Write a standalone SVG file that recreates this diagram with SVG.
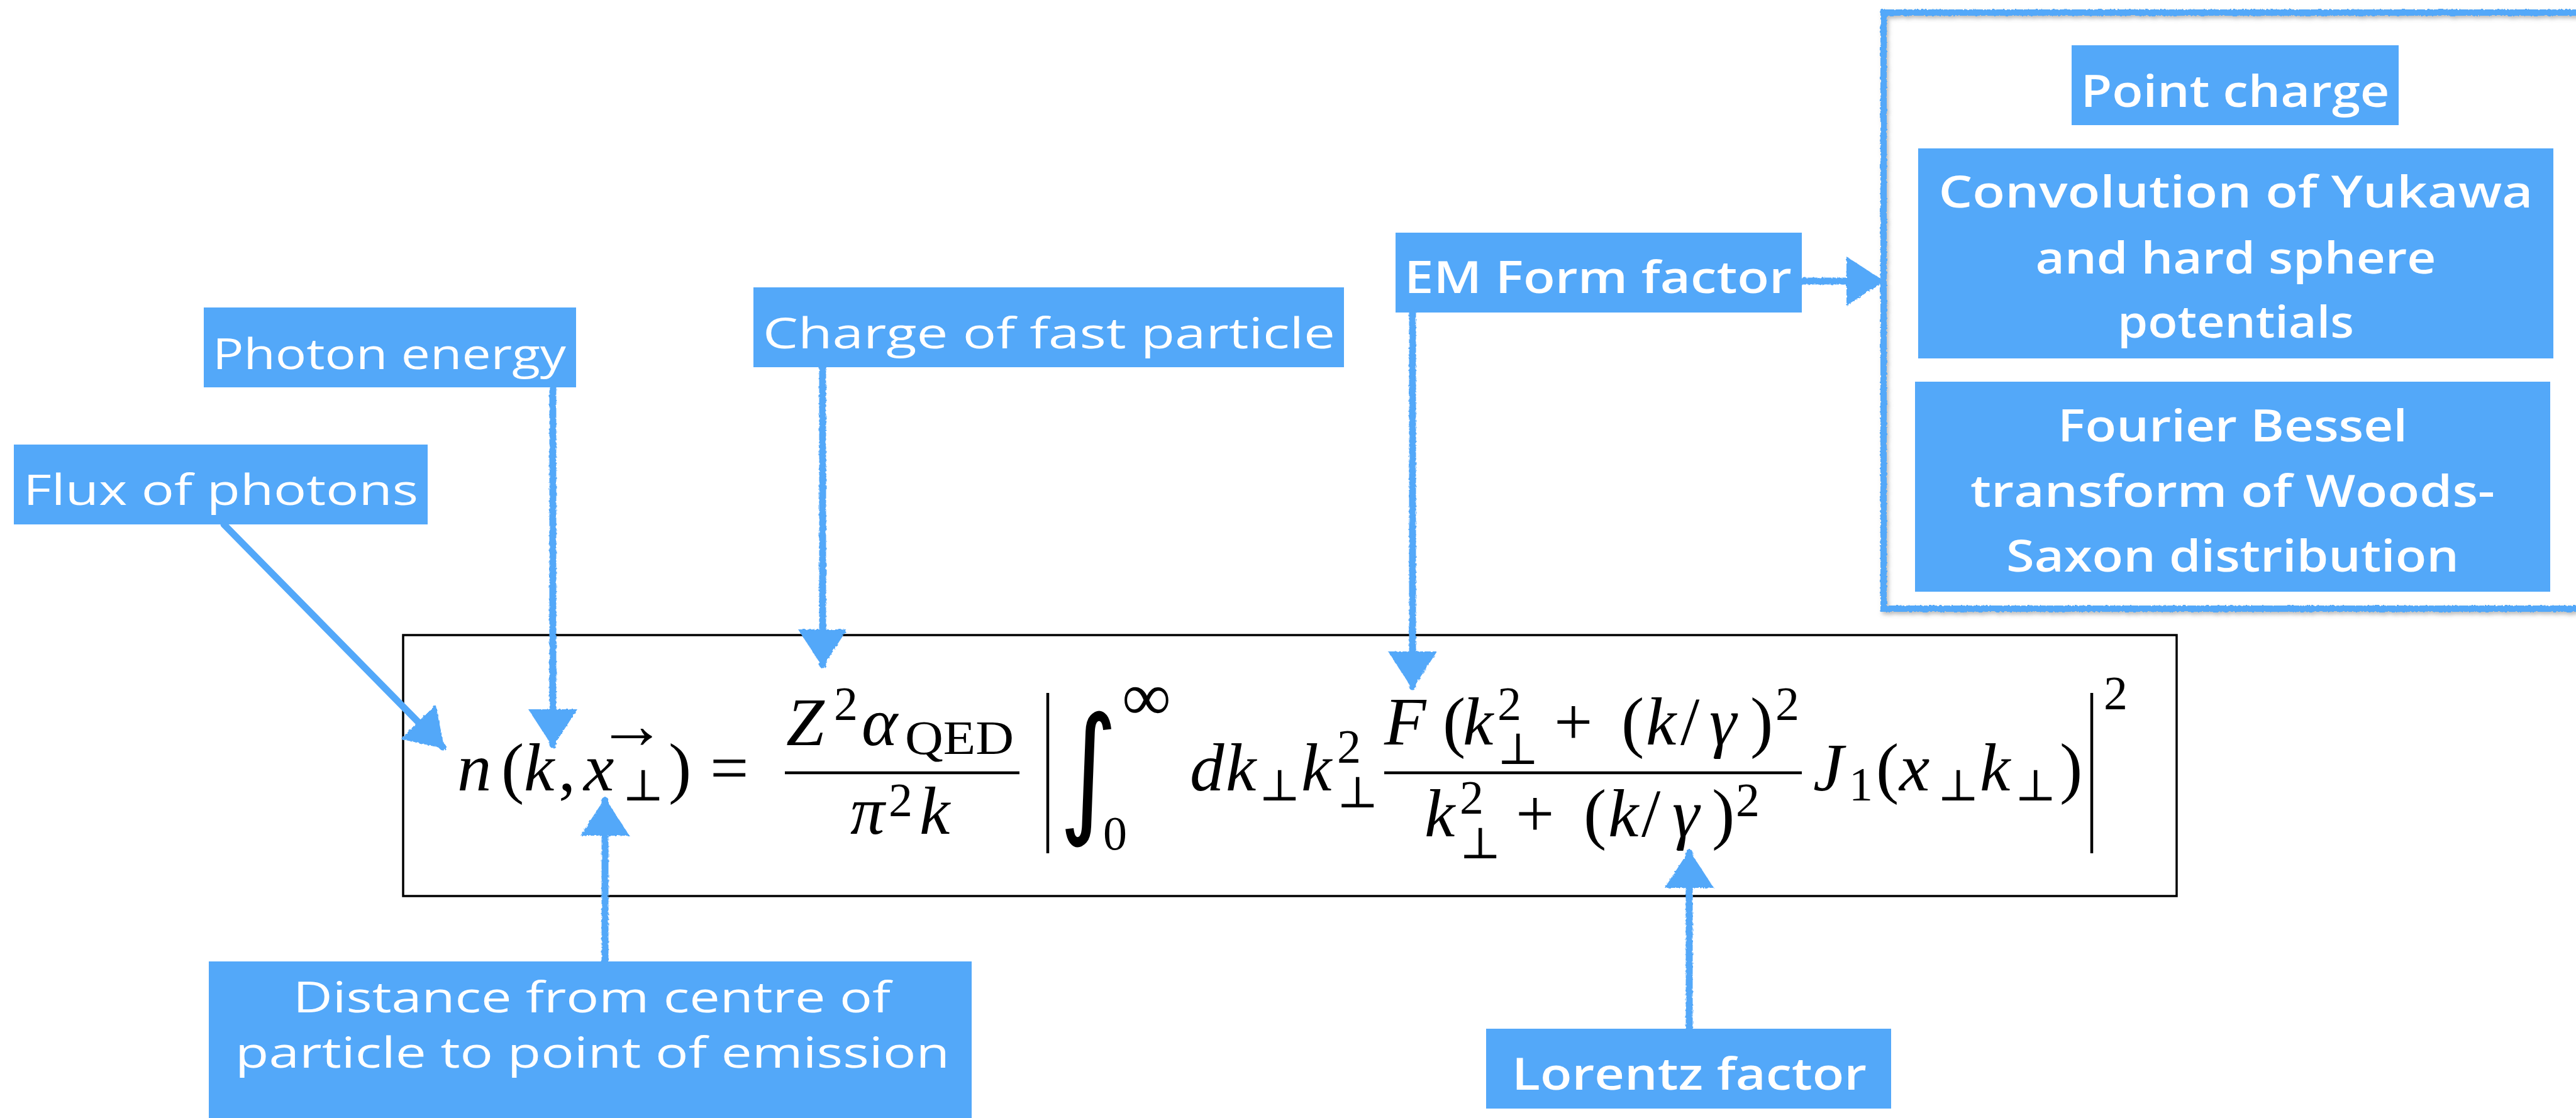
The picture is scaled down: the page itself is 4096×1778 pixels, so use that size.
<svg xmlns="http://www.w3.org/2000/svg" width="4096" height="1778" viewBox="0 0 4096 1778">
<defs>
<style>
.box{fill:#53A8F9}
.lbl{fill:#fff;font-family:"Open Sans","Noto Sans",sans-serif;font-size:70px;font-weight:600;text-anchor:middle}
.lbl2{fill:#fff;font-family:"Open Sans","Noto Sans",sans-serif;font-size:68px;font-weight:400;text-anchor:middle}
.conn{stroke:#53A8F9;stroke-width:11;fill:none;stroke-linecap:round;marker-end:url(#ah)}
.m{font-family:"Liberation Serif","DejaVu Serif",serif;fill:#000;font-size:109px}
.mi{font-style:italic}
.s{font-size:76px}
.p{font-size:70px}
.bar{stroke:#000;stroke-width:4.5;fill:none}
</style>
<marker id="ah" viewBox="0 0 60 78" refX="56" refY="39" markerWidth="60" markerHeight="78" markerUnits="userSpaceOnUse" orient="auto">
<path d="M0,0 L60,39 L0,78 Z" fill="#53A8F9"/>
</marker>
<filter id="rough" x="-5%" y="-5%" width="110%" height="110%">
<feTurbulence type="fractalNoise" baseFrequency="0.25" numOctaves="2" seed="3"/>
<feDisplacementMap in="SourceGraphic" scale="4"/>
</filter>
<filter id="sh" x="-5%" y="-5%" width="115%" height="115%">
<feDropShadow dx="3" dy="4" stdDeviation="3" flood-color="#777" flood-opacity="0.5"/>
</filter>
</defs>
<rect width="4096" height="1778" fill="#fff"/>

<g id="frame-form-factors" filter="url(#sh)">
<rect x="2995" y="20" width="1130" height="948" fill="none" stroke="#53A8F9" stroke-width="10" filter="url(#rough)"/>
</g>

<g id="formula">
<rect x="641" y="1010" width="2820" height="415" fill="#fff" stroke="#000" stroke-width="3.5"/>
<text class="m mi" x="727" y="1257">n</text>
<text class="m" x="797" y="1257">(</text>
<text class="m mi" x="833" y="1257">k</text>
<text class="m" x="888" y="1257">,</text>
<text class="m mi" x="928" y="1257">x</text>
<text class="m" x="950" y="1190" font-size="50">→</text>
<text class="m p" x="990" y="1273">⊥</text>
<text class="m" x="1063" y="1257">)</text>
<text class="m" x="1129" y="1257">=</text>
<line class="bar" x1="1248" y1="1229" x2="1621" y2="1229"/>
<text class="m mi" x="1250" y="1185">Z</text>
<text class="m s" x="1326" y="1145">2</text>
<text class="m mi" x="1370" y="1185">α</text>
<text class="m s" x="1439" y="1199" textLength="173" lengthAdjust="spacingAndGlyphs">QED</text>
<text class="m mi" x="1352" y="1326">π</text>
<text class="m s" x="1413" y="1298">2</text>
<text class="m mi" x="1462" y="1326">k</text>
<line class="bar" x1="1666" y1="1102" x2="1666" y2="1357"/>
<text transform="translate(1684,1300) scale(0.8,1)" x="0" y="0" font-family="DejaVu Sans, sans-serif" font-size="224" fill="#000">∫</text>
<text class="m" x="1784" y="1145" font-size="100">∞</text>
<text class="m s" x="1754" y="1351">0</text>
<text class="m mi" x="1892" y="1257">d</text>
<text class="m mi" x="1949" y="1257">k</text>
<text class="m p" x="2002" y="1273">⊥</text>
<text class="m mi" x="2069" y="1257">k</text>
<text class="m s" x="2126" y="1213">2</text>
<text class="m p" x="2126" y="1284">⊥</text>
<line class="bar" x1="2201" y1="1229" x2="2865" y2="1229"/>
<text class="m mi" x="2201" y="1184">F</text>
<text class="m" x="2294" y="1184">(</text>
<text class="m mi" x="2326" y="1184">k</text>
<text class="m s" x="2381" y="1145">2</text>
<text class="m p" x="2381" y="1215">⊥</text>
<text class="m" x="2471" y="1184">+</text>
<text class="m" x="2578" y="1184">(</text>
<text class="m mi" x="2617" y="1184">k</text>
<text class="m" x="2672" y="1184">/</text>
<text class="m mi" x="2718" y="1184">γ</text>
<text class="m" x="2783" y="1184">)</text>
<text class="m s" x="2823" y="1145">2</text>
<text class="m mi" x="2265" y="1330">k</text>
<text class="m s" x="2321" y="1294">2</text>
<text class="m p" x="2321" y="1365">⊥</text>
<text class="m" x="2410" y="1330">+</text>
<text class="m" x="2518" y="1330">(</text>
<text class="m mi" x="2557" y="1330">k</text>
<text class="m" x="2610" y="1330">/</text>
<text class="m mi" x="2659" y="1330">γ</text>
<text class="m" x="2722" y="1330">)</text>
<text class="m s" x="2760" y="1298">2</text>
<text class="m mi" x="2883" y="1257">J</text>
<text class="m s" x="2940" y="1273">1</text>
<text class="m" x="2983" y="1257">(</text>
<text class="m mi" x="3020" y="1257">x</text>
<text class="m p" x="3081" y="1273">⊥</text>
<text class="m mi" x="3148" y="1257">k</text>
<text class="m p" x="3204" y="1273">⊥</text>
<text class="m" x="3275" y="1257">)</text>
<line class="bar" x1="3326" y1="1102" x2="3326" y2="1357"/>
<text class="m s" x="3345" y="1128">2</text>
</g>

<g id="flux-of-photons">
<rect class="box" x="22" y="707" width="658" height="127"/>
<text class="lbl2" x="351" y="803" textLength="628" lengthAdjust="spacingAndGlyphs">Flux of photons</text>
</g>
<g id="photon-energy">
<rect class="box" x="324" y="489" width="592" height="127"/>
<text class="lbl2" x="619" y="587" textLength="562" lengthAdjust="spacingAndGlyphs">Photon energy</text>
</g>
<g id="charge-of-fast-particle">
<rect class="box" x="1198" y="457" width="939" height="127"/>
<text class="lbl2" x="1668" y="554" textLength="910" lengthAdjust="spacingAndGlyphs">Charge of fast particle</text>
</g>
<g id="em-form-factor">
<rect class="box" x="2219" y="370" width="646" height="127"/>
<text class="lbl" x="2541" y="466" textLength="616" lengthAdjust="spacingAndGlyphs">EM Form factor</text>
</g>
<g id="point-charge">
<rect class="box" x="3294" y="72" width="520" height="127"/>
<text class="lbl" x="3554" y="170" textLength="491" lengthAdjust="spacingAndGlyphs">Point charge</text>
</g>
<g id="yukawa">
<rect class="box" x="3050" y="236" width="1010" height="334"/>
<text class="lbl" x="3555" y="330" textLength="945" lengthAdjust="spacingAndGlyphs">Convolution of Yukawa</text>
<text class="lbl" x="3555" y="435" textLength="637" lengthAdjust="spacingAndGlyphs">and hard sphere</text>
<text class="lbl" x="3555" y="537" textLength="376" lengthAdjust="spacingAndGlyphs">potentials</text>
</g>
<g id="woods-saxon">
<rect class="box" x="3045" y="607" width="1010" height="334"/>
<text class="lbl" x="3550" y="702" textLength="556" lengthAdjust="spacingAndGlyphs">Fourier Bessel</text>
<text class="lbl" x="3550" y="806" textLength="834" lengthAdjust="spacingAndGlyphs">transform of Woods-</text>
<text class="lbl" x="3550" y="909" textLength="720" lengthAdjust="spacingAndGlyphs">Saxon distribution</text>
</g>
<g id="distance">
<rect class="box" x="332" y="1529" width="1213" height="260"/>
<text class="lbl2" x="941" y="1610" textLength="950" lengthAdjust="spacingAndGlyphs">Distance from centre of</text>
<text class="lbl2" x="942" y="1698" textLength="1136" lengthAdjust="spacingAndGlyphs">particle to point of emission</text>
</g>
<g id="lorentz-factor">
<rect class="box" x="2363" y="1636" width="644" height="127"/>
<text class="lbl" x="2686" y="1733" textLength="564" lengthAdjust="spacingAndGlyphs">Lorentz factor</text>
</g>

<g id="connectors" filter="url(#rough)">
<path class="conn" d="M356,834 Q520,1000 704,1188"/>
<path class="conn" d="M879,616 L879,1184"/>
<path class="conn" d="M1308,584 L1308,1057"/>
<path class="conn" d="M2246,497 L2246,1092"/>
<path class="conn" d="M2865,447 L2992,447"/>
<path class="conn" d="M962,1529 L962,1273"/>
<path class="conn" d="M2686,1636 L2686,1356"/>
</g>
</svg>
